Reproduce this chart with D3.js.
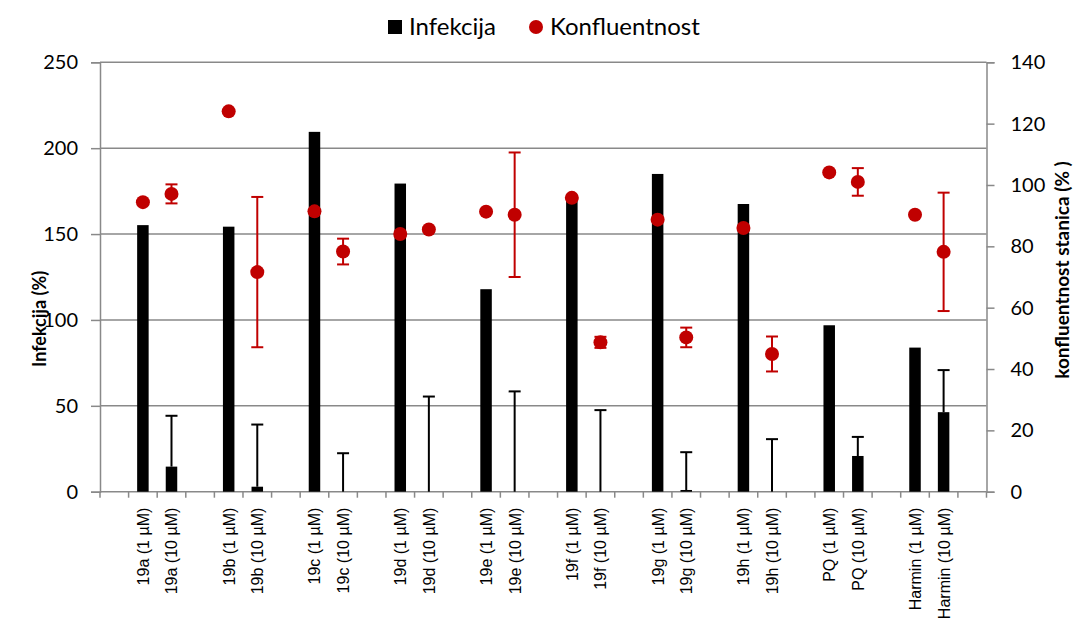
<!DOCTYPE html>
<html>
<head>
<meta charset="utf-8">
<script src="https://cdn.jsdelivr.net/npm/d3@7"></script>
<style>
  html, body { margin: 0; padding: 0; background: #fff; }
  svg { display: block; }
</style>
</head>
<body>
<svg id="chart" width="1075" height="624"></svg>
<script>
// ---- data ----
const groups = ["19a", "19b", "19c", "19d", "19e", "19f", "19g", "19h", "PQ", "Harmin"];
const doses = ["1 µM", "10 µM"];
const labels = ["19a (1 µM)", "19a (10 µM)", "19b (1 µM)", "19b (10 µM)", "19c (1 µM)", "19c (10 µM)",
  "19d (1 µM)", "19d (10 µM)", "19e (1 µM)", "19e (10 µM)", "19f (1 µM)", "19f (10 µM)",
  "19g (1 µM)", "19g (10 µM)", "19h (1 µM)", "19h (10 µM)", "PQ (1 µM)", "PQ (10 µM)",
  "Harmin (1 µM)", "Harmin (10 µM)"];
const infekcija = [155.2, 14.6, 154.3, 2.9, 209.5, 0, 179.4, 0, 117.9, 0, 172.0, 0, 185.0, 1.0, 167.5, 0, 96.9, 20.8, 83.9, 46.3];
const infekcijaErr = [0, 29.6, 0, 36.2, 0, 22.4, 0, 55.4, 0, 58.4, 0, 47.5, 0, 22.0, 0, 30.6, 0, 11.1, 0, 24.5];
const konfluentnost = [94.4, 97.1, 124.0, 71.6, 91.4, 78.3, 84.0, 85.5, 91.3, 90.3, 95.8, 48.7, 88.7, 50.3, 86.0, 44.9, 104.1, 101.0, 90.3, 78.2];
const konfluentnostErr = [0, 3.1, 0, 24.5, 0, 4.2, 0, 0.8, 0, 20.3, 0, 1.8, 0, 3.2, 0, 5.7, 0, 4.5, 0, 19.3];
const leftTicks = [0, 50, 100, 150, 200, 250];
const rightTicks = [0, 20, 40, 60, 80, 100, 120, 140];

// ---- layout ----
const svg = d3.select("#chart");
const L = 100, R = 986.5, T = 62.3, B = 491.7;
const gray = "#898989";
const red = "#C00000";

// slots: one blank before each group, blank at the end
const nSlots = groups.length * 3 + 1;
const slotOf = i => 1 + Math.floor(i / 2) * 3 + (i % 2);
const x = d3.scaleBand().domain(d3.range(nSlots)).range([L, R]).paddingInner(0).paddingOuter(0);
const yL = d3.scaleLinear().domain([0, 250]).range([B, T]);
const yR = d3.scaleLinear().domain([0, 140]).range([B, T]);
const cx = i => x(slotOf(i)) + x.bandwidth() / 2;

// gridlines
svg.append("g").selectAll("line").data(leftTicks.filter(d => d > 0)).join("line")
  .attr("x1", L).attr("x2", R).attr("y1", d => yL(d)).attr("y2", d => yL(d))
  .attr("stroke", gray).attr("stroke-width", 1.5);

// left axis
const gL = svg.append("g").attr("transform", `translate(${L},0)`)
  .call(d3.axisLeft(yL).tickValues(leftTicks).tickSize(9).tickPadding(13));
gL.select(".domain").attr("stroke", gray).attr("stroke-width", 1.5);
gL.selectAll(".tick line").attr("stroke", gray).attr("stroke-width", 1.5);
gL.selectAll(".tick text").attr("font-family", "Lato").attr("font-size", 20).attr("fill", "#000");

// right axis
const gR = svg.append("g").attr("transform", `translate(${R},0)`)
  .call(d3.axisRight(yR).tickValues(rightTicks).tickSize(8).tickPadding(16));
gR.select(".domain").attr("stroke", gray).attr("stroke-width", 1.5);
gR.selectAll(".tick line").attr("stroke", gray).attr("stroke-width", 1.5);
gR.selectAll(".tick text").attr("font-family", "Lato").attr("font-size", 20).attr("fill", "#000");

// bottom axis: ticks at slot boundaries
const bounds = d3.range(nSlots + 1).map(k => L + k * x.bandwidth());
svg.append("line").attr("x1", L).attr("x2", R).attr("y1", B).attr("y2", B)
  .attr("stroke", gray).attr("stroke-width", 1.5);
svg.append("g").selectAll("line").data(bounds).join("line")
  .attr("x1", d => d).attr("x2", d => d).attr("y1", B).attr("y2", B + 6)
  .attr("stroke", gray).attr("stroke-width", 1.5);

// category labels
svg.append("g").selectAll("text").data(labels).join("text")
  .attr("transform", (d, i) => `translate(${cx(i) + 6},${B + 16}) rotate(-90)`)
  .attr("text-anchor", "end")
  .attr("font-family", "Liberation Sans").attr("font-size", 16).attr("fill", "#000")
  .text(d => d);

// bars
const bw = 11.5;
svg.append("g").selectAll("rect").data(infekcija).join("rect")
  .attr("x", (d, i) => cx(i) - bw / 2).attr("width", bw)
  .attr("y", d => yL(d)).attr("height", d => B - yL(d))
  .attr("fill", "#000");

// black error bars (upper part visible)
const capW = 12;
const infErrG = svg.append("g").attr("stroke", "#000").attr("stroke-width", 2);
infekcija.forEach((v, i) => {
  const e = infekcijaErr[i];
  if (!e) return;
  const top = yL(v + e);
  infErrG.append("line").attr("x1", cx(i)).attr("x2", cx(i)).attr("y1", yL(v)).attr("y2", top);
  infErrG.append("line").attr("x1", cx(i) - capW / 2).attr("x2", cx(i) + capW / 2).attr("y1", top).attr("y2", top);
});

// red error bars
const konfErrG = svg.append("g").attr("stroke", red).attr("stroke-width", 2);
konfluentnost.forEach((v, i) => {
  const e = konfluentnostErr[i];
  if (!e) return;
  const t = yR(v + e), b = yR(v - e);
  konfErrG.append("line").attr("x1", cx(i)).attr("x2", cx(i)).attr("y1", t).attr("y2", b);
  [t, b].forEach(yy => konfErrG.append("line")
    .attr("x1", cx(i) - capW / 2).attr("x2", cx(i) + capW / 2).attr("y1", yy).attr("y2", yy));
});

// dots
svg.append("g").selectAll("circle").data(konfluentnost).join("circle")
  .attr("cx", (d, i) => cx(i)).attr("cy", d => yR(d)).attr("r", 7)
  .attr("fill", red);

// axis titles
svg.append("text").attr("transform", `translate(46,319) rotate(-90)`)
  .attr("text-anchor", "middle").attr("font-family", "Lato").attr("font-weight", "bold")
  .attr("font-size", 18).text("Infekcija (%)");
svg.append("text").attr("transform", `translate(1069,270) rotate(-90)`)
  .attr("text-anchor", "middle").attr("font-family", "Lato").attr("font-weight", "bold")
  .attr("font-size", 19).text("konfluentnost stanica (% )");

// legend
const lg = svg.append("g");
lg.append("rect").attr("x", 388).attr("y", 20).attr("width", 14).attr("height", 14).attr("fill", "#000");
lg.append("text").attr("x", 409).attr("y", 35).attr("font-family", "Lato").attr("font-size", 24)
  .attr("fill", "#000").text("Infekcija");
lg.append("circle").attr("cx", 536).attr("cy", 27).attr("r", 7).attr("fill", red);
lg.append("text").attr("x", 550).attr("y", 35).attr("font-family", "Lato").attr("font-size", 24)
  .attr("fill", "#000").text("Konfluentnost");
</script>
</body>
</html>
